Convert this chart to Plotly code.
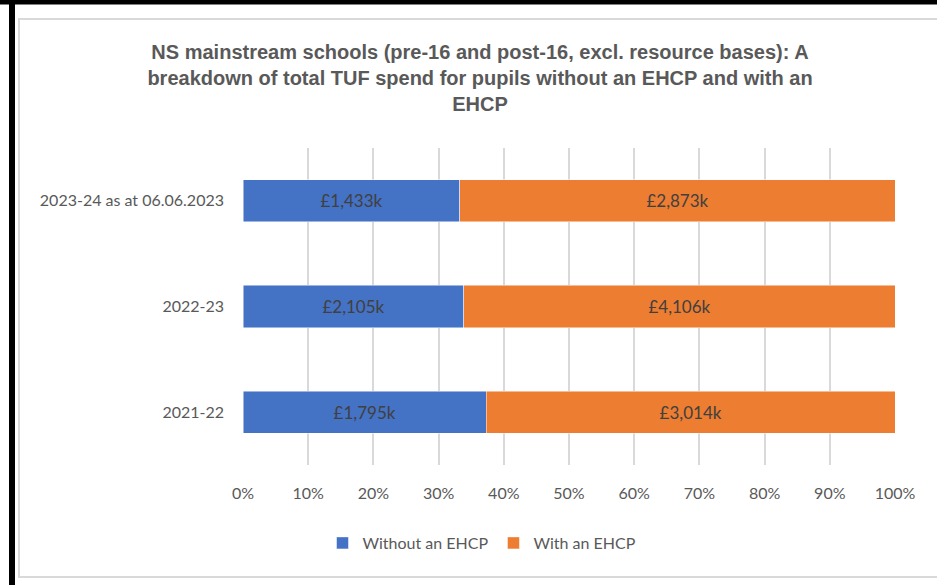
import plotly.graph_objects as go

# Spend data (£k) per financial year
years = ["2021-22", "2022-23", "2023-24 as at 06.06.2023"]
without_ehcp = [1795, 2105, 1433]
with_ehcp = [3014, 4106, 2873]

BLUE = "#4472C4"
ORANGE = "#ED7D31"
GREY_TEXT = "#595959"
GRID = "#D9D9D9"
W, H = 937, 585
L, R, T, B = 243, 42, 148, 120


def px_x(px):
    return (px - L) / (W - L - R)


def px_y(py):
    return (H - B - py) / (H - T - B)


def money(v):
    return f"£{v:,}k"


font_body = "Lato, Noto Sans, sans-serif"

fig = go.Figure()
for name, vals, colour in [("Without an EHCP", without_ehcp, BLUE),
                           ("With an EHCP", with_ehcp, ORANGE)]:
    fig.add_bar(
        y=years, x=vals, orientation="h", name=name,
        marker=dict(color=colour, line=dict(color="rgba(255,255,255,0.6)", width=0.8)),
        text=[money(v) for v in vals], textposition="inside",
        insidetextanchor="middle",
        textfont=dict(family=font_body, color="#404040", size=17),
    )

fig.update_layout(
    width=W, height=H,
    barmode="stack", barnorm="percent", bargap=0.6,
    margin=dict(l=L, r=R, t=T, b=B),
    paper_bgcolor="white", plot_bgcolor="white",
    font=dict(family=font_body, color=GREY_TEXT, size=16),
    uniformtext=dict(mode="show", minsize=10),
    title=dict(
        text="NS mainstream schools (pre-16 and post-16, excl. resource bases): A<br>"
             "breakdown of total TUF spend for pupils without an EHCP and with an<br>EHCP",
        x=480 / W, xanchor="center",
        y=1 - 59 / H, yanchor="middle",
        font=dict(family="Liberation Sans, Arial, sans-serif",
                  size=20, color=GREY_TEXT, weight="bold"),
    ),
    xaxis=dict(
        range=[0, 100], dtick=10, ticksuffix="%",
        showgrid=True, gridcolor=GRID, gridwidth=1.5,
        zeroline=False, showline=False, ticks="",
        ticklabelstandoff=17, tickfont=dict(size=16, color=GREY_TEXT),
        fixedrange=True,
    ),
    yaxis=dict(
        showgrid=False, zeroline=False, showline=False, ticks="",
        ticklabelstandoff=18, tickfont=dict(size=16, color=GREY_TEXT),
        categoryorder="array", categoryarray=years,
    ),
    legend=dict(
        orientation="h", x=px_x(482), xanchor="center",
        y=px_y(543), yanchor="middle",
        font=dict(size=16, color=GREY_TEXT), traceorder="normal",
        itemwidth=30,
    ),
    showlegend=True,
)

# Frame: outer black edges and light grey chart border
fig.add_shape(type="rect", xref="paper", yref="paper",
              x0=px_x(9), x1=px_x(15), y0=px_y(H + 5), y1=px_y(-5),
              fillcolor="black", line=dict(width=0), layer="above")
fig.add_shape(type="rect", xref="paper", yref="paper",
              x0=px_x(-5), x1=px_x(W + 5), y0=px_y(4.5), y1=px_y(-5),
              fillcolor="black", line=dict(width=0), layer="above")
fig.add_shape(type="rect", xref="paper", yref="paper",
              x0=px_x(19), x1=px_x(W + 10), y0=px_y(577), y1=px_y(19),
              fillcolor="rgba(0,0,0,0)", line=dict(color=GRID, width=2), layer="below")

fig.write_html("out.html")
